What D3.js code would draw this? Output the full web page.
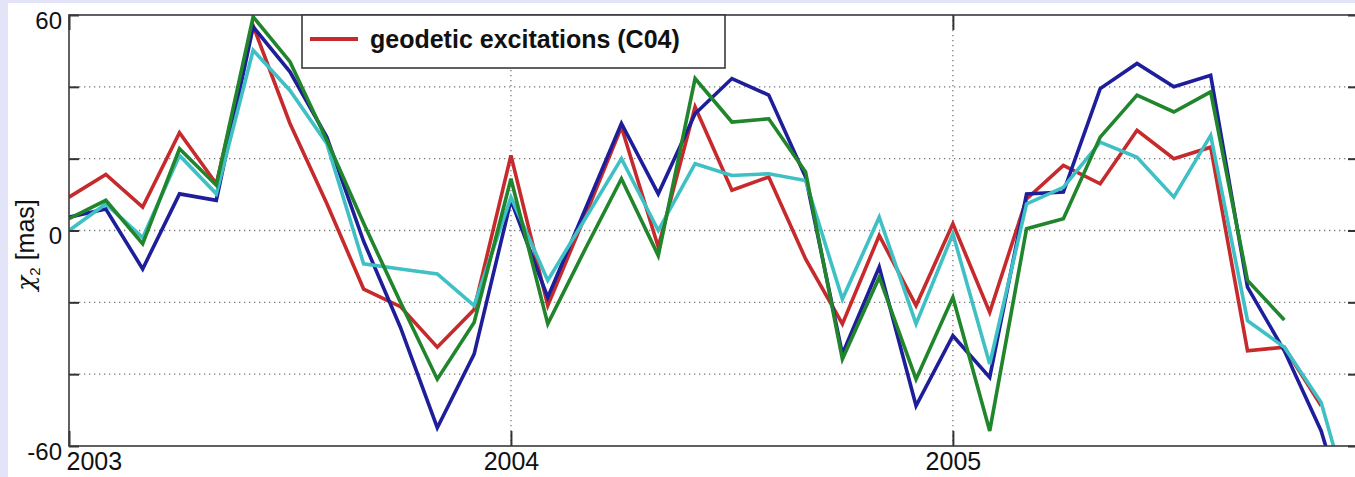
<!DOCTYPE html>
<html>
<head>
<meta charset="utf-8">
<script src="https://cdn.jsdelivr.net/npm/d3@7"></script>
<style>
body { margin:0; padding:0; background:#e4e4f8; }
svg { display:block; }
</style>
</head>
<body>
<svg id="chart"></svg>
<script>
// monthly samples, first one at 2003.0
var startYear = 2003
var yearTicks = [2003, 2004, 2005]
var yTicks = [-60, -40, -20, 0, 20, 40, 60]
var yLabels = [-60, 0, 60]

var red = [9.3, 15.6, 6.5, 27.2, 13, 57, 29.8, 7.5, -16.3, -21.2, -32.5, -22,
           20.9, -20.9, 3.7, 28.8, -4.6, 34.4, 11.2, 14.9, -7.9, -26, -1.4, -20.9,
           1.9, -22.8, 8.8, 18.1, 13, 27.9, 20, 23.2, -33.5, -32.5, -48.8]
var green = [3.3, 8.4, -3.7, 22.8, 12.6, 59.5, 47, 25.1, 2, -20, -41.4, -25.6,
             14.4, -26, -5.5, 14.4, -7, 42.3, 30.2, 31.1, 16.3, -35.8, -13, -41.4,
             -18.6, -55.8, 0.5, 3.3, 26, 37.7, 33, 38.6, -13.9, -24.9]
var blue = [3.7, 6.0, -10.7, 10.2, 8.4, 56.7, 44.2, 26, -3, -27, -54.9, -34.4,
            8.4, -18.6, 5.5, 29.8, 10.2, 32.5, 42.3, 37.7, 14.9, -34.4, -10.2, -48.8,
            -29.3, -40.9, 10.2, 10.7, 39.5, 46.5, 40, 43.2, -15.8, -33.5, -55.8, -90]
var cyan = [0, 7.4, -2, 20.9, 10.2, 50.2, 39, 24.2, -9.3, -10.7, -12.1, -20.9,
            9.3, -13.9, 3, 20, 0, 18.6, 15.3, 15.8, 13.9, -19.1, 3.7, -26,
            -0.9, -37.2, 7.4, 12, 24.6, 20.4, 9.3, 26.5, -25.1, -32.5, -47.9, -84]

var screen = {width:1355, height:477}
var plot = {left:69, right:1358, top:15, bottom:446}

var svg = d3.select("#chart")
    .attr("width", screen.width)
    .attr("height", screen.height)

// figure background
svg.append("rect")
    .attr("width", screen.width).attr("height", screen.height)
    .attr("fill", "#e4e4f8")
svg.append("rect")
    .attr("x", 8).attr("y", 3)
    .attr("width", screen.width - 8).attr("height", screen.height - 3)
    .attr("fill", "#ffffff")

var xScale = d3.scaleLinear()
    .domain([startYear, startYear + 35/12])
    .range([plot.left, plot.right])
var yScale = d3.scaleLinear()
    .domain([-60, 60])
    .range([plot.bottom, plot.top])

svg.append("defs").append("clipPath").attr("id", "clip")
    .append("rect")
    .attr("x", plot.left).attr("y", plot.top)
    .attr("width", plot.right - plot.left)
    .attr("height", plot.bottom - plot.top)

// dotted grid
var grid = svg.append("g")
    .attr("stroke", "#777")
    .attr("stroke-width", 1.3)
    .attr("stroke-dasharray", "1.3,3.7")
grid.selectAll(".hgrid")
    .data(yTicks.filter(function(d){ return d > -60 && d < 60 }))
    .enter().append("line")
    .attr("x1", plot.left).attr("x2", plot.right)
    .attr("y1", function(d){ return yScale(d) })
    .attr("y2", function(d){ return yScale(d) })
grid.selectAll(".vgrid")
    .data(yearTicks.slice(1))
    .enter().append("line")
    .attr("x1", function(d){ return xScale(d) })
    .attr("x2", function(d){ return xScale(d) })
    .attr("y1", plot.top).attr("y2", plot.bottom)

// series lines
var lineGenerator = d3.line()
    .x(function(d, i){ return xScale(startYear + i/12) })
    .y(function(d){ return yScale(d) })

var series = [
    {values:red, color:"#c62a2c"},
    {values:blue, color:"#1e1e9a"},
    {values:cyan, color:"#3fc0c4"},
    {values:green, color:"#21852c"}
]
var lines = svg.append("g").attr("clip-path", "url(#clip)")
lines.selectAll("path")
    .data(series)
    .enter().append("path")
    .attr("fill", "none")
    .attr("stroke", function(s){ return s.color })
    .attr("stroke-width", 3.6)
    .attr("stroke-linejoin", "miter")
    .attr("d", function(s){ return lineGenerator(s.values) })

// axes
var fontTick = "'Liberation Sans', Arial, sans-serif"

var yAxis = d3.axisLeft(yScale)
    .tickValues(yTicks)
    .tickSizeInner(-10).tickSizeOuter(0).tickPadding(7)
    .tickFormat(function(d){ return yLabels.indexOf(d) >= 0 ? String(d) : "" })
var gy = svg.append("g")
    .attr("transform", "translate(" + plot.left + ",0)")
    .call(yAxis)
gy.selectAll("text").attr("dy", "0.55em")

var yAxisR = d3.axisRight(yScale)
    .tickValues(yTicks).tickSizeInner(-10).tickSizeOuter(0)
    .tickFormat("")
var gyr = svg.append("g")
    .attr("transform", "translate(" + plot.right + ",0)")
    .call(yAxisR)

var xAxis = d3.axisBottom(xScale)
    .tickValues(yearTicks)
    .tickSizeInner(-15).tickSizeOuter(0).tickPadding(6)
    .tickFormat(d3.format("d"))
var gx = svg.append("g")
    .attr("transform", "translate(0," + plot.bottom + ")")
    .call(xAxis)
gx.selectAll("text")
    .filter(function(d){ return d === 2003 })
    .attr("text-anchor", "start")
    .attr("x", -3)

var xAxisT = d3.axisTop(xScale)
    .tickValues(yearTicks).tickSizeInner(-15).tickSizeOuter(0)
    .tickFormat("")
var gxt = svg.append("g")
    .attr("transform", "translate(0," + plot.top + ")")
    .call(xAxisT)

svg.selectAll(".domain").remove()
svg.selectAll(".tick line").attr("stroke", "#333").attr("stroke-width", 2)
svg.selectAll(".tick text")
    .attr("fill", "#111")
    .style("font-family", fontTick)
    .style("font-size", "24px")
gx.selectAll(".tick text").style("font-size", "25px")

// axes box
svg.append("rect")
    .attr("x", plot.left).attr("y", plot.top)
    .attr("width", plot.right - plot.left)
    .attr("height", plot.bottom - plot.top)
    .attr("fill", "none")
    .attr("stroke", "#3a3a3a")
    .attr("stroke-width", 1.6)

// y label
var ylab = svg.append("text")
    .attr("transform", "translate(34,245) rotate(-90)")
    .attr("text-anchor", "middle")
    .attr("fill", "#111")
    .style("font-family", fontTick)
    .style("font-size", "25px")
ylab.append("tspan")
    .style("font-family", "'DejaVu Serif', serif")
    .style("font-style", "italic")
    .text("χ")
ylab.append("tspan")
    .attr("dy", 6)
    .style("font-size", "15px")
    .text("2")
ylab.append("tspan")
    .attr("dy", -6)
    .text(" [mas]")

// legend
var legend = svg.append("g").attr("id", "legend")
legend.append("rect")
    .attr("x", 302).attr("y", plot.top)
    .attr("width", 423).attr("height", 53)
    .attr("fill", "#ffffff")
    .attr("stroke", "#3a3a3a")
    .attr("stroke-width", 1.6)
legend.append("line")
    .attr("x1", 310).attr("x2", 358)
    .attr("y1", 39).attr("y2", 39)
    .attr("stroke", "#c62a2c")
    .attr("stroke-width", 4)
legend.append("text")
    .attr("x", 370).attr("y", 48)
    .attr("fill", "#111")
    .style("font-family", fontTick)
    .style("font-weight", "bold")
    .style("font-size", "25px")
    .text("geodetic excitations (C04)")
</script>
</body>
</html>
